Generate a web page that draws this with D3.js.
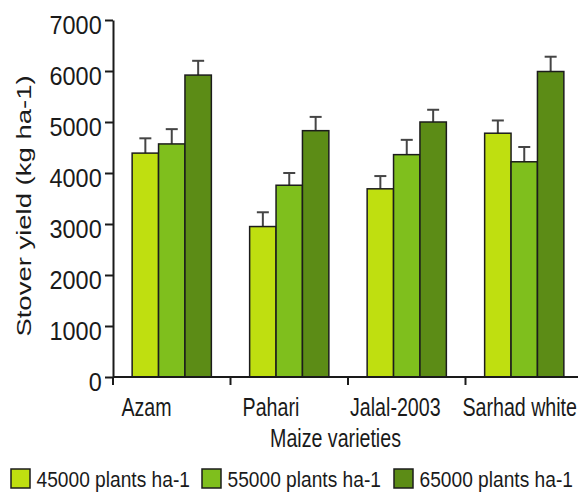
<!DOCTYPE html>
<html>
<head>
<meta charset="utf-8">
<script src="https://cdn.jsdelivr.net/npm/d3@7"></script>
<style>
  html, body { margin: 0; padding: 0; background: #ffffff; }
  svg { display: block; font-family: "Liberation Sans", Arial, sans-serif; }
</style>
</head>
<body>
<svg id="chart" width="578" height="493"></svg>
<script>
// ---- data ----
const categories = ["Azam", "Pahari", "Jalal-2003", "Sarhad white"];
const seriesNames = ["45000 plants ha-1", "55000 plants ha-1", "65000 plants ha-1"];
const values45 = [4390, 2950, 3690, 4780];
const values55 = [4570, 3760, 4360, 4220];
const values65 = [5920, 4830, 5000, 5990];
const errors45 = [290, 280, 250, 250];
const errors55 = [290, 240, 290, 290];
const errors65 = [280, 270, 240, 290];
const yTicks = [0, 1000, 2000, 3000, 4000, 5000, 6000, 7000];
const yTitle = "Stover yield (kg ha-1)";
const xTitle = "Maize varieties";

const seriesValues = [values45, values55, values65];
const seriesErrors = [errors45, errors55, errors65];
const colors = ["#bfdf10", "#7fbf1d", "#5c8c16"];

const svg = d3.select("#chart");
const axisLeftX = 113, yBottom = 377, yTop = 20;

const x0 = d3.scaleBand().domain(categories).range([axisLeftX, 583]).padding(0);
const x1 = d3.scaleBand().domain(seriesNames).range([0, x0.bandwidth()]).paddingInner(0).paddingOuter(0.725);
const y = d3.scaleLinear().domain([0, 7000]).range([yBottom, yTop]);

// bars
const rows = [];
categories.forEach((c, i) => {
  seriesNames.forEach((s, j) => {
    rows.push({ cat: c, ser: s, j: j, v: seriesValues[j][i], e: seriesErrors[j][i] });
  });
});

const g = svg.append("g");

// error bars
const eb = g.selectAll("g.err").data(rows).enter().append("g").attr("class", "err");
eb.append("line")
  .attr("x1", d => x0(d.cat) + x1(d.ser) + x1.bandwidth() / 2)
  .attr("x2", d => x0(d.cat) + x1(d.ser) + x1.bandwidth() / 2)
  .attr("y1", d => y(d.v))
  .attr("y2", d => y(d.v + d.e))
  .attr("stroke", "#454545").attr("stroke-width", 2);
eb.append("line")
  .attr("x1", d => x0(d.cat) + x1(d.ser) + x1.bandwidth() / 2 - 6)
  .attr("x2", d => x0(d.cat) + x1(d.ser) + x1.bandwidth() / 2 + 6)
  .attr("y1", d => y(d.v + d.e))
  .attr("y2", d => y(d.v + d.e))
  .attr("stroke", "#454545").attr("stroke-width", 2);

g.selectAll("rect.bar").data(rows).enter().append("rect")
  .attr("class", "bar")
  .attr("x", d => x0(d.cat) + x1(d.ser))
  .attr("y", d => y(d.v))
  .attr("width", x1.bandwidth())
  .attr("height", d => y(0) - y(d.v))
  .attr("fill", d => colors[d.j])
  .attr("stroke", "#1c1c1c")
  .attr("stroke-width", 1.5);

// y axis
const yAxis = d3.axisLeft(y).tickValues(yTicks).tickSize(8).tickSizeOuter(0).tickFormat(d3.format("d"));
const ya = svg.append("g").attr("transform", `translate(${axisLeftX},0)`).call(yAxis);
ya.select(".domain").attr("stroke", "#1a1a1a").attr("stroke-width", 2);
ya.selectAll(".tick line").attr("stroke", "#1a1a1a").attr("stroke-width", 2);
ya.selectAll(".tick text")
  .attr("font-size", 25.5).attr("fill", "#1a1a1a")
  .attr("font-family", "'Liberation Sans', Arial, sans-serif")
  .attr("x", -12.3).attr("dy", 13.5)
  .attr("transform", "scale(0.92,1)");

// x axis
svg.append("line")
  .attr("x1", axisLeftX).attr("x2", 583)
  .attr("y1", yBottom).attr("y2", yBottom)
  .attr("stroke", "#1a1a1a").attr("stroke-width", 2);
const bounds = categories.map(c => x0(c)).concat([x0.range()[1]]);
svg.selectAll("line.xtick").data(bounds).enter().append("line")
  .attr("class", "xtick")
  .attr("x1", d => d).attr("x2", d => d)
  .attr("y1", yBottom).attr("y2", yBottom + 8)
  .attr("stroke", "#1a1a1a").attr("stroke-width", 2);

// category labels
const xl = d3.scalePoint().domain(categories).range([146.5, 519.7]);
svg.selectAll("text.cat").data(categories).enter().append("text")
  .attr("class", "cat")
  .attr("transform", d => `translate(${xl(d)},415.5) scale(0.77,1)`)
  .attr("text-anchor", "middle")
  .attr("font-size", 25.5).attr("fill", "#1a1a1a")
  .text(d => d);

// x title
svg.append("text")
  .attr("transform", "translate(335.5,446.5) scale(0.77,1)")
  .attr("text-anchor", "middle")
  .attr("font-size", 25.5).attr("fill", "#1a1a1a")
  .text(xTitle);

// y title
svg.append("text")
  .attr("transform", "translate(31,206) scale(0.76,1) rotate(-90)")
  .attr("text-anchor", "middle")
  .attr("font-size", 27.5).attr("fill", "#1a1a1a")
  .text(yTitle);

// legend
const legX = [11, 202, 394];
const lg = svg.selectAll("g.leg").data(seriesNames).enter().append("g")
  .attr("class", "leg")
  .attr("transform", (d, i) => `translate(${legX[i]},469)`);
lg.append("rect")
  .attr("x", 0).attr("y", 0).attr("width", 19).attr("height", 19)
  .attr("fill", (d, i) => colors[i])
  .attr("stroke", "#1c1c1c").attr("stroke-width", 1.5);
lg.append("text")
  .attr("transform", "translate(25.5,17.5) scale(0.86,1)")
  .attr("font-size", 22.3).attr("fill", "#1a1a1a")
  .text(d => d);
</script>
</body>
</html>
